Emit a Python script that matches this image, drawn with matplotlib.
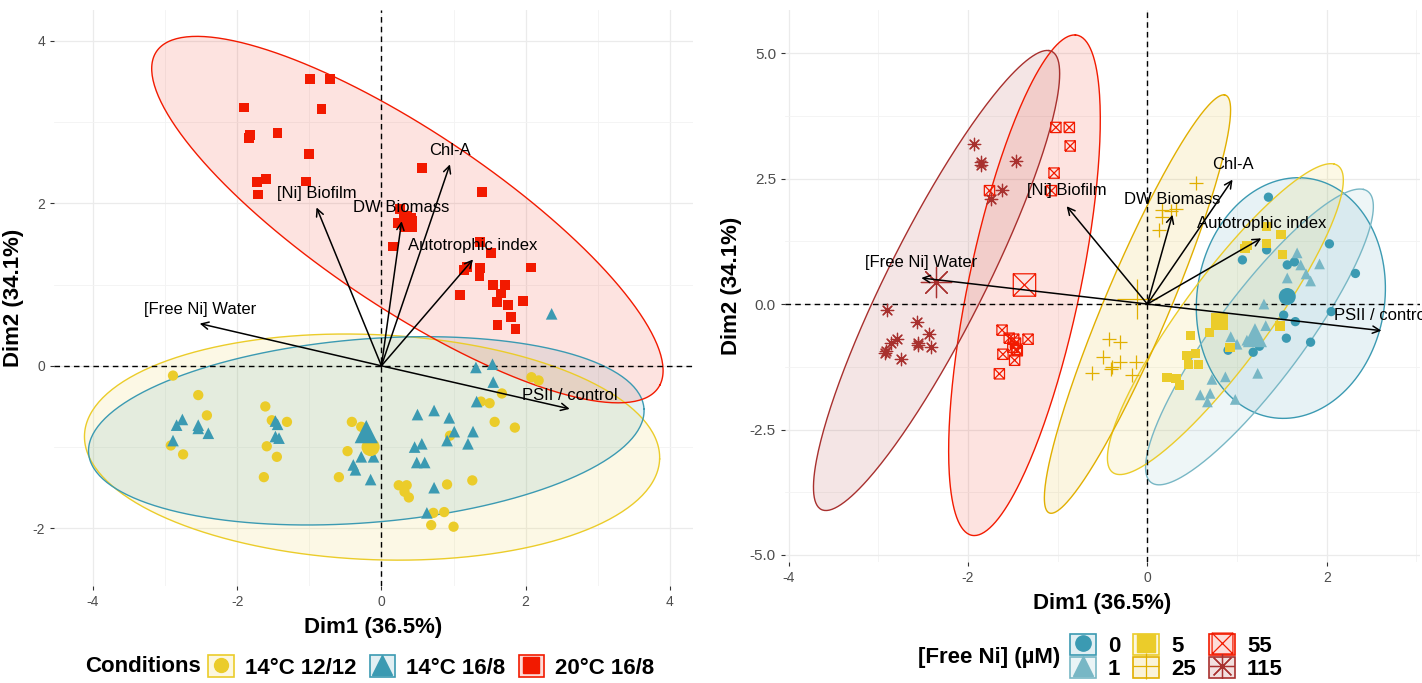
import numpy as np
import matplotlib
matplotlib.use("Agg")
import matplotlib.pyplot as plt
from matplotlib.path import Path
from matplotlib.patches import Patch
from matplotlib.lines import Line2D
from matplotlib.legend_handler import HandlerTuple
from matplotlib.ticker import FixedLocator

plt.rcParams['font.family'] = ['Liberation Sans', 'DejaVu Sans']
plt.rcParams['axes.unicode_minus'] = False

# ---- shared variable arrows (PCA loadings) ----
var_labels = ["[Free Ni] Water", "[Ni] Biofilm", "DW Biomass", "Chl-A", "Autotrophic index", "PSII / control"]
var_x = [-2.52, -0.90, 0.28, 0.95, 1.27, 2.61]
var_y = [0.52, 1.95, 1.78, 2.48, 1.31, -0.53]

# ---- left panel: conditions ----
cond_names = ["14°C 12/12", "14°C 16/8", "20°C 16/8"]
c1212_x = [-2.89, -2.54, -2.42, -2.92, -2.75, -1.61, -1.52, -1.31, -1.59, -1.45, -1.63, -0.41, -0.28, -0.47,
           -0.59, 0.24, 0.35, 0.32, 0.38, 0.72, 0.87, 0.69, 1.00, 0.91, 0.95, 1.26, 1.57, 1.85, 1.38, 1.50,
           1.67, 2.08, 2.18]
c1212_y = [-0.12, -0.36, -0.61, -0.98, -1.09, -0.50, -0.67, -0.69, -0.99, -1.12, -1.37, -0.69, -0.75, -1.05,
           -1.37, -1.47, -1.47, -1.55, -1.62, -1.81, -1.80, -1.96, -1.98, -1.46, -0.86, -1.41, -0.69, -0.76,
           -0.44, -0.46, -0.34, -0.14, -0.18]
c168_x = [-2.76, -2.84, -2.54, -2.54, -2.40, -2.89, -1.47, -1.44, -1.47, -1.42, -0.28, -0.11, -0.39, -0.36,
          -0.15, 0.50, 0.73, 0.94, 1.01, 1.27, 0.91, 1.20, 0.46, 0.56, 0.49, 0.60, 0.73, 0.63, 1.31, 1.54,
          1.55, 1.32, 2.36]
c168_y = [-0.66, -0.73, -0.73, -0.77, -0.83, -0.92, -0.68, -0.72, -0.87, -0.89, -1.12, -1.12, -1.22, -1.28,
          -1.40, -0.60, -0.55, -0.64, -0.81, -0.81, -0.92, -0.96, -1.00, -0.96, -1.19, -1.19, -1.50, -1.81,
          -0.02, 0.02, -0.20, -0.44, 0.64]
c208_x = [-0.99, -0.71, -1.91, -0.83, -1.82, -1.84, -1.44, -1.01, -1.73, -1.60, -1.71, -1.05, 0.56, 1.39,
          0.26, 0.36, 0.23, 0.42, 0.42, 0.33, 0.16, 1.37, 1.52, 1.15, 1.19, 1.37, 1.36, 2.07, 1.55, 1.71,
          1.66, 1.09, 1.60, 1.75, 1.96, 1.80, 1.61, 1.86]
c208_y = [3.53, 3.53, 3.18, 3.16, 2.84, 2.80, 2.87, 2.61, 2.26, 2.30, 2.11, 2.27, 2.44, 2.14,
          1.93, 1.85, 1.76, 1.78, 1.71, 1.71, 1.47, 1.52, 1.39, 1.18, 1.22, 1.20, 1.10, 1.21, 1.00, 1.00,
          0.89, 0.87, 0.79, 0.75, 0.80, 0.60, 0.50, 0.45]
cond_mean_x = [-0.15, -0.21, 0.36]
cond_mean_y = [-1.00, -0.81, 1.78]
# ellipse: centre x, centre y, half major, half minor, angle (deg)
cond_ell = [(-0.13, -1.00, 3.99, 1.385, -2.1),
            (-0.21, -0.80, 3.86, 1.13, 4.0),
            (0.36, 1.80, 4.05, 1.12, -30.2)]

# ---- right panel: free Ni ----
ni_names = ["0", "1", "5", "25", "55", "115"]
ni0_x = [1.35, 2.03, 2.32, 1.06, 1.33, 1.56, 1.64, 1.52, 1.65, 1.55, 1.82, 1.25, 1.18, 0.90, 2.05]
ni0_y = [2.13, 1.20, 0.61, 0.88, 1.08, 0.78, 0.84, -0.22, -0.35, -0.68, -0.76, -0.84, -0.96, -0.92, -0.15]
ni1_x = [1.67, 1.71, 1.92, 1.56, 1.77, 1.82, 1.30, 1.32, 0.93, 1.00, 1.11, 0.87, 1.23, 0.72, 0.59, 0.70, 0.67, 0.98]
ni1_y = [1.02, 0.78, 0.80, 0.52, 0.60, 0.46, 0.00, -0.43, -0.65, -0.80, -0.72, -1.45, -1.38, -1.50, -1.81, -1.78,
         -1.95, -1.90]
ni5_x = [1.33, 1.49, 1.33, 1.51, 1.11, 1.09, 0.69, 0.48, 0.44, 0.54, 0.46, 0.57, 0.22, 0.32, 0.36, 0.92, 1.48]
ni5_y = [1.54, 1.39, 1.21, 0.99, 1.17, 1.11, -0.57, -0.62, -1.02, -0.98, -1.20, -1.20, -1.47, -1.48, -1.61,
         -0.86, -0.44]
ni25_x = [0.54, 0.16, 0.26, 0.32, 0.16, 0.13, -0.43, -0.30, -0.50, -0.39, -0.40, -0.30, -0.62, -0.13, -0.17]
ni25_y = [2.42, 1.87, 1.86, 1.89, 1.74, 1.47, -0.70, -0.76, -1.06, -1.25, -1.30, -1.15, -1.38, -1.15, -1.41]
ni55_x = [-1.02, -0.87, -0.86, -1.04, -1.07, -1.76, -1.62, -1.54, -1.49, -1.47, -1.33, -1.50, -1.45, -1.46,
          -1.61, -1.48, -1.65]
ni55_y = [3.52, 3.52, 3.15, 2.61, 2.26, 2.26, -0.52, -0.68, -0.70, -0.78, -0.70, -0.86, -0.93, -0.90,
          -1.00, -1.12, -1.39]
ni115_x = [-1.93, -1.86, -1.85, -1.47, -1.62, -1.74, -2.90, -2.57, -2.79, -2.86, -2.56, -2.56, -2.43, -2.41,
           -2.93, -2.91, -2.75]
ni115_y = [3.18, 2.83, 2.77, 2.86, 2.28, 2.09, -0.12, -0.36, -0.69, -0.77, -0.77, -0.82, -0.60, -0.86,
           -0.98, -0.93, -1.09]
ni_mean_x = [1.56, 1.20, 0.81, -0.12, -1.37, -2.36]
ni_mean_y = [0.15, -0.62, -0.34, 0.10, 0.38, 0.44]
ni_ell = [(1.60, 0.12, 2.40, 1.05, 87.5),
          (1.25, -0.655, 3.16, 0.56, 68.5),
          (0.87, -0.30, 3.32, 0.55, 68.6),
          (-0.11, 0.00, 4.28, 0.38, 76.9),
          (-1.37, 0.375, 5.02, 0.63, 83.5),
          (-2.35, 0.47, 4.75, 0.58, 74.7)]

YELLOW = "#EBCC2A"
BLUE = "#3B9AB2"
RED = "#F21A00"
LBLUE = "#78B7C5"
GOLD = "#E1AF00"
DRED = "#A8302E"

# crossed square marker (R pch 7)
box_x = Path([(-1, -1), (1, -1), (1, 1), (-1, 1), (-1, -1), (-1, -1), (1, 1), (-1, 1), (1, -1)],
             [Path.MOVETO, Path.LINETO, Path.LINETO, Path.LINETO, Path.LINETO,
              Path.MOVETO, Path.LINETO, Path.MOVETO, Path.LINETO])
star8 = (8, 2, 0)


def ellipse(ax, e, color, alpha=0.13, lw=1.0):
    cx, cy, a, b, ang = e
    t = np.linspace(0, 2 * np.pi, 300)
    th = np.deg2rad(ang)
    x = cx + a * np.cos(t) * np.cos(th) - b * np.sin(t) * np.sin(th)
    y = cy + a * np.cos(t) * np.sin(th) + b * np.sin(t) * np.cos(th)
    ax.fill(x, y, facecolor=color, alpha=alpha, edgecolor="none", zorder=1)
    ax.plot(x, y, color=color, lw=lw, zorder=2)


def style_axes(ax, xt, xm, yt, ym, ytl=None):
    for s in ax.spines.values():
        s.set_visible(False)
    ax.set_xticks(xt)
    ax.set_yticks(yt)
    if ytl is not None:
        ax.set_yticklabels(ytl)
    ax.xaxis.set_minor_locator(FixedLocator(xm))
    ax.yaxis.set_minor_locator(FixedLocator(ym))
    ax.grid(True, which="major", color="#EBEBEB", lw=0.9, zorder=0)
    ax.grid(True, which="minor", color="#F3F3F3", lw=0.6, zorder=0)
    ax.tick_params(which="major", length=3, width=0.8, color="#333333", labelcolor="#4D4D4D", labelsize=10)
    ax.tick_params(which="minor", length=0)
    ax.set_axisbelow(True)
    ax.axhline(0, color="black", lw=1.0, ls=(0, (4, 3)), zorder=3)
    ax.axvline(0, color="black", lw=1.0, ls=(0, (4, 3)), zorder=3)
    ax.set_xlabel("Dim1 (36.5%)", fontsize=16, fontweight="bold", labelpad=6)
    ax.set_ylabel("Dim2 (34.1%)", fontsize=16, fontweight="bold", labelpad=6)


def arrows(ax, off):
    for lab, x, y in zip(var_labels, var_x, var_y):
        ax.annotate("", xy=(x, y), xytext=(0, 0),
                    arrowprops=dict(arrowstyle="->", color="black", lw=1.1, mutation_scale=13,
                                    shrinkA=0, shrinkB=0), zorder=5)
        ax.annotate(lab, xy=(x, y), xytext=(0, off), textcoords="offset points",
                    ha="center", va="center", fontsize=12, color="black", zorder=6)


fig = plt.figure(figsize=(14.22, 6.83), dpi=100)
W, H = 1422.0, 683.0

# ---------- left panel ----------
ax1 = fig.add_axes([54 / W, 1 - 586 / H, (693 - 54) / W, (586 - 10) / H])
for e, col in zip(cond_ell, [YELLOW, BLUE, RED]):
    ellipse(ax1, e, col, alpha=0.12)
ax1.scatter(c1212_x, c1212_y, s=55, marker="o", color=YELLOW, edgecolors="none", zorder=4)
ax1.scatter(c168_x, c168_y, s=70, marker="^", color=BLUE, edgecolors="none", zorder=4)
ax1.scatter(c208_x, c208_y, s=50, marker="s", color=RED, edgecolors="none", zorder=4)
ax1.scatter(cond_mean_x[0], cond_mean_y[0], s=170, marker="o", color=YELLOW, edgecolors="none", zorder=4)
ax1.scatter(cond_mean_x[1], cond_mean_y[1], s=280, marker="^", color=BLUE, edgecolors="none", zorder=4)
ax1.scatter(cond_mean_x[2], cond_mean_y[2], s=150, marker="s", color=RED, edgecolors="none", zorder=4)
arrows(ax1, 10)
ax1.set_xlim(-4.54, 4.32)
ax1.set_ylim(-2.71, 4.38)
style_axes(ax1, [-4, -2, 0, 2, 4], [-3, -1, 1, 3], [-2, 0, 2, 4], [-1, 1, 3])

# ---------- right panel ----------
ax2 = fig.add_axes([785 / W, 1 - 562 / H, (1420 - 785) / W, (562 - 10) / H])
for e, col in zip(ni_ell, [BLUE, LBLUE, YELLOW, GOLD, RED, DRED]):
    ellipse(ax2, e, col, alpha=0.12)
ax2.scatter(ni0_x, ni0_y, s=45, marker="o", color=BLUE, edgecolors="none", zorder=4)
ax2.scatter(ni1_x, ni1_y, s=60, marker="^", color=LBLUE, edgecolors="none", zorder=4)
ax2.scatter(ni5_x, ni5_y, s=45, marker="s", color=YELLOW, edgecolors="none", zorder=4)
ax2.scatter(ni25_x, ni25_y, s=90, marker="+", color=GOLD, linewidths=0.9, zorder=4)
ax2.scatter(ni55_x, ni55_y, s=55, marker=box_x, facecolors="none", edgecolors=RED, linewidths=0.9, zorder=4)
ax2.scatter(ni115_x, ni115_y, s=80, marker=star8, color=DRED, linewidths=0.9, zorder=4)
ax2.scatter(ni_mean_x[0], ni_mean_y[0], s=150, marker="o", color=BLUE, edgecolors="none", zorder=4)
ax2.scatter(ni_mean_x[1], ni_mean_y[1], s=300, marker="^", color=LBLUE, edgecolors="none", zorder=4)
ax2.scatter(ni_mean_x[2], ni_mean_y[2], s=150, marker="s", color=YELLOW, edgecolors="none", zorder=4)
ax2.scatter(ni_mean_x[3], ni_mean_y[3], s=800, marker="+", color=GOLD, linewidths=0.9, zorder=4)
ax2.scatter(ni_mean_x[4], ni_mean_y[4], s=260, marker=box_x, facecolors="none", edgecolors=RED,
            linewidths=0.9, zorder=4)
ax2.scatter(ni_mean_x[5], ni_mean_y[5], s=480, marker=star8, color=DRED, linewidths=0.9, zorder=4)
arrows(ax2, 11)
ax2.set_xlim(-4.04, 3.04)
ax2.set_ylim(-5.14, 5.86)
style_axes(ax2, [-4, -2, 0, 2], [-3, -1, 1, 3], [-5, -2.5, 0, 2.5, 5], [-3.75, -1.25, 1.25, 3.75],
           ["-5.0", "-2.5", "0.0", "2.5", "5.0"])
ax2.tick_params(axis="y", labelsize=11)

# ---------- legends ----------
lprop = dict(weight="bold", size=16)


def key(col, marker, ms, mfc=None, lw=1.0):
    p = Patch(facecolor=matplotlib.colors.to_rgba(col, 0.15), edgecolor=col, lw=1.2)
    m = Line2D([], [], ls="", marker=marker, markersize=ms, color=col,
               markerfacecolor=col if mfc is None else mfc, markeredgewidth=lw)
    return (p, m)


tup = {tuple: HandlerTuple(ndivide=1, pad=0)}

h1 = [key(YELLOW, "o", 10), key(BLUE, "^", 14), key(RED, "s", 12)]
fig.text(85 / W, 1 - 667 / H, "Conditions", fontsize=16, fontweight="bold", va="center", ha="left")
fig.legend(h1, cond_names, loc="center left", bbox_to_anchor=(208 / W, 1 - 667 / H), ncol=3,
           frameon=False, prop=lprop, handlelength=1.15, handleheight=1.15, handletextpad=0.5,
           columnspacing=0.6, borderpad=0, borderaxespad=0, handler_map=tup)

h2 = [key(BLUE, "o", 11), key(LBLUE, "^", 15), key(YELLOW, "s", 13), key(GOLD, "+", 19, lw=0.9),
      key(RED, box_x, 15, mfc="none", lw=0.9), key(DRED, star8, 18, lw=0.9)]
fig.text(1060 / W, 1 - 657 / H, "[Free Ni] (µM)", fontsize=16, fontweight="bold", va="center", ha="right")
fig.legend(h2, ni_names, loc="center left", bbox_to_anchor=(1070 / W, 1 - 657 / H), ncol=3,
           frameon=False, prop=lprop, handlelength=1.15, handleheight=1.05, handletextpad=0.55,
           columnspacing=0.6, labelspacing=0.0, borderpad=0, borderaxespad=0, handler_map=tup)

fig.savefig("out.png", dpi=100)
